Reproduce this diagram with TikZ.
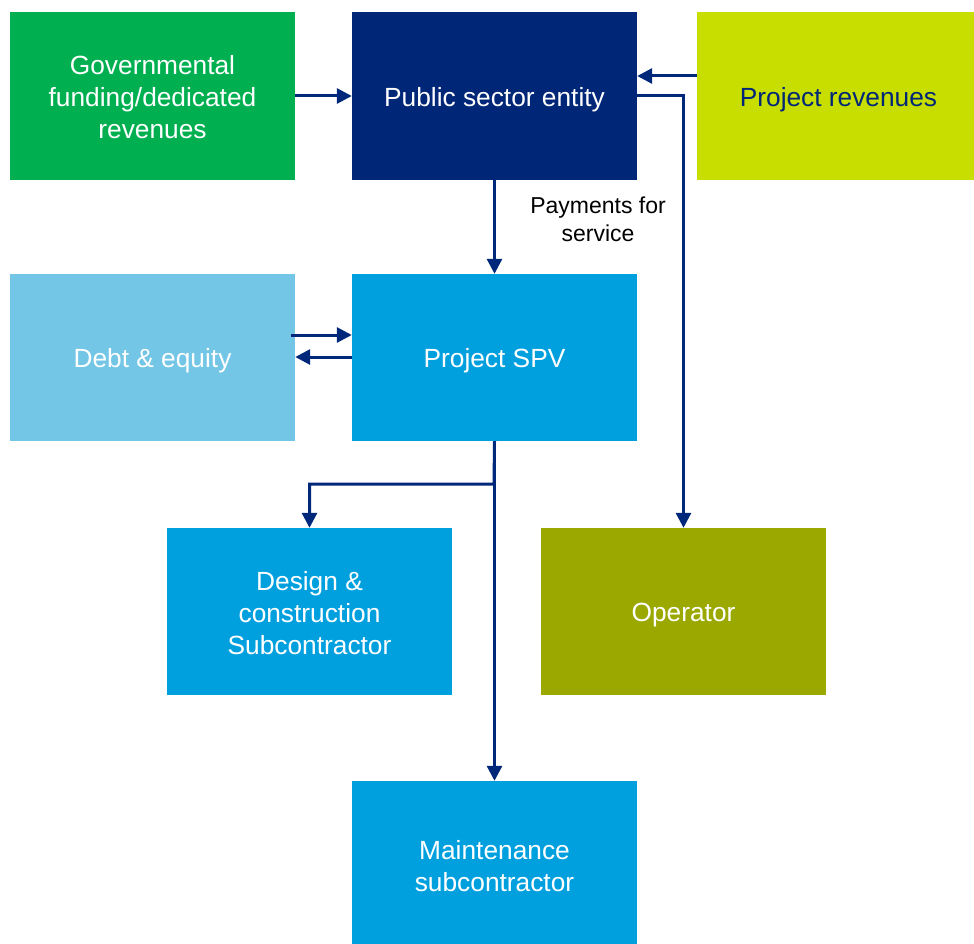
\documentclass[tikz,border=0pt]{standalone}
\usepackage{fontspec}
\setmainfont{Liberation Sans}
\usetikzlibrary{arrows.meta}
\definecolor{govgreen}{RGB}{0,176,80}
\definecolor{navy}{RGB}{0,38,120}
\definecolor{lime}{RGB}{200,222,0}
\definecolor{lightblue}{RGB}{116,198,230}
\definecolor{midblue}{RGB}{0,160,223}
\definecolor{olive}{RGB}{154,168,0}
\definecolor{arrownavy}{RGB}{0,40,122}
\begin{document}
\begin{tikzpicture}[x=1pt,y=-1pt,
  boxnode/.style={draw=none,minimum width=285pt,minimum height=168pt,inner sep=0pt},
  boxtext/.style={inner sep=0pt,align=center,text=white,font=\fontsize{26.3}{32}\selectfont},
  flow/.style={draw=arrownavy,line width=3pt,-{Triangle[length=15pt,width=15pt]}}]
\useasboundingbox (0,0) rectangle (974,944);
% boxes
\node[boxnode,fill=govgreen] (gov) at (152.5,96) {};
\node[boxnode,fill=navy] (pse) at (494.5,96) {};
\node[boxnode,fill=lime,minimum width=277pt] (rev) at (835.5,96) {};
\node[boxnode,fill=lightblue,minimum height=167pt] (debt) at (152.5,357.5) {};
\node[boxnode,fill=midblue,minimum height=167pt] (spv) at (494.5,357.5) {};
\node[boxnode,fill=midblue,minimum height=167pt] (dc) at (309.5,611.5) {};
\node[boxnode,fill=olive,minimum height=167pt] (op) at (683.5,611.5) {};
\node[boxnode,fill=midblue,minimum height=163pt] (mnt) at (494.5,862.5) {};
% box captions
\node[boxtext] (govt) at ([yshift=-1pt]gov.center) {Governmental\\funding/dedicated\\revenues};
\node[boxtext] (pset) at ([yshift=-4pt]pse.center) {Public sector entity};
\node[boxtext,text=navy] (revt) at ([xshift=3pt,yshift=-4pt]rev.center) {Project revenues};
\node[boxtext] (debtt) at ([yshift=-3pt]debt.center) {Debt \& equity};
\node[boxtext] (spvt) at ([yshift=-3pt]spv.center) {Project SPV};
\node[boxtext] (dct) at ([yshift=-2pt]dc.center) {Design \&\\construction\\Subcontractor};
\node[boxtext] (opt) at ([yshift=-4pt]op.center) {Operator};
\node[boxtext] (mntt) at ([yshift=-4pt]mnt.center) {Maintenance\\subcontractor};
% connectors
\draw[flow] (gov.east |- 0,96) -- (pse.west |- 0,96);
\draw[flow] (rev.west |- 0,76) -- (pse.east |- 0,76);
\coordinate (pseout) at (637,96);
\draw[flow] (pseout) -| (op.north);
\draw[flow] (pse.south) -- (spv.north);
\node[font=\fontsize{23}{28}\selectfont,align=center,anchor=center] (pay) at (598,219) {Payments for\\service};
\coordinate (debtout) at (291,335);
\draw[flow] (debtout) -- (spv.west |- debtout);
\draw[flow] (spv.west |- 0,357) -- (debt.east |- 0,357);
\coordinate (split) at (494,484);
\draw[flow] (spv.south) -- (split) -| (dc.north);
\draw[flow] (spv.south) -- (mnt.north);
\end{tikzpicture}
\end{document}
